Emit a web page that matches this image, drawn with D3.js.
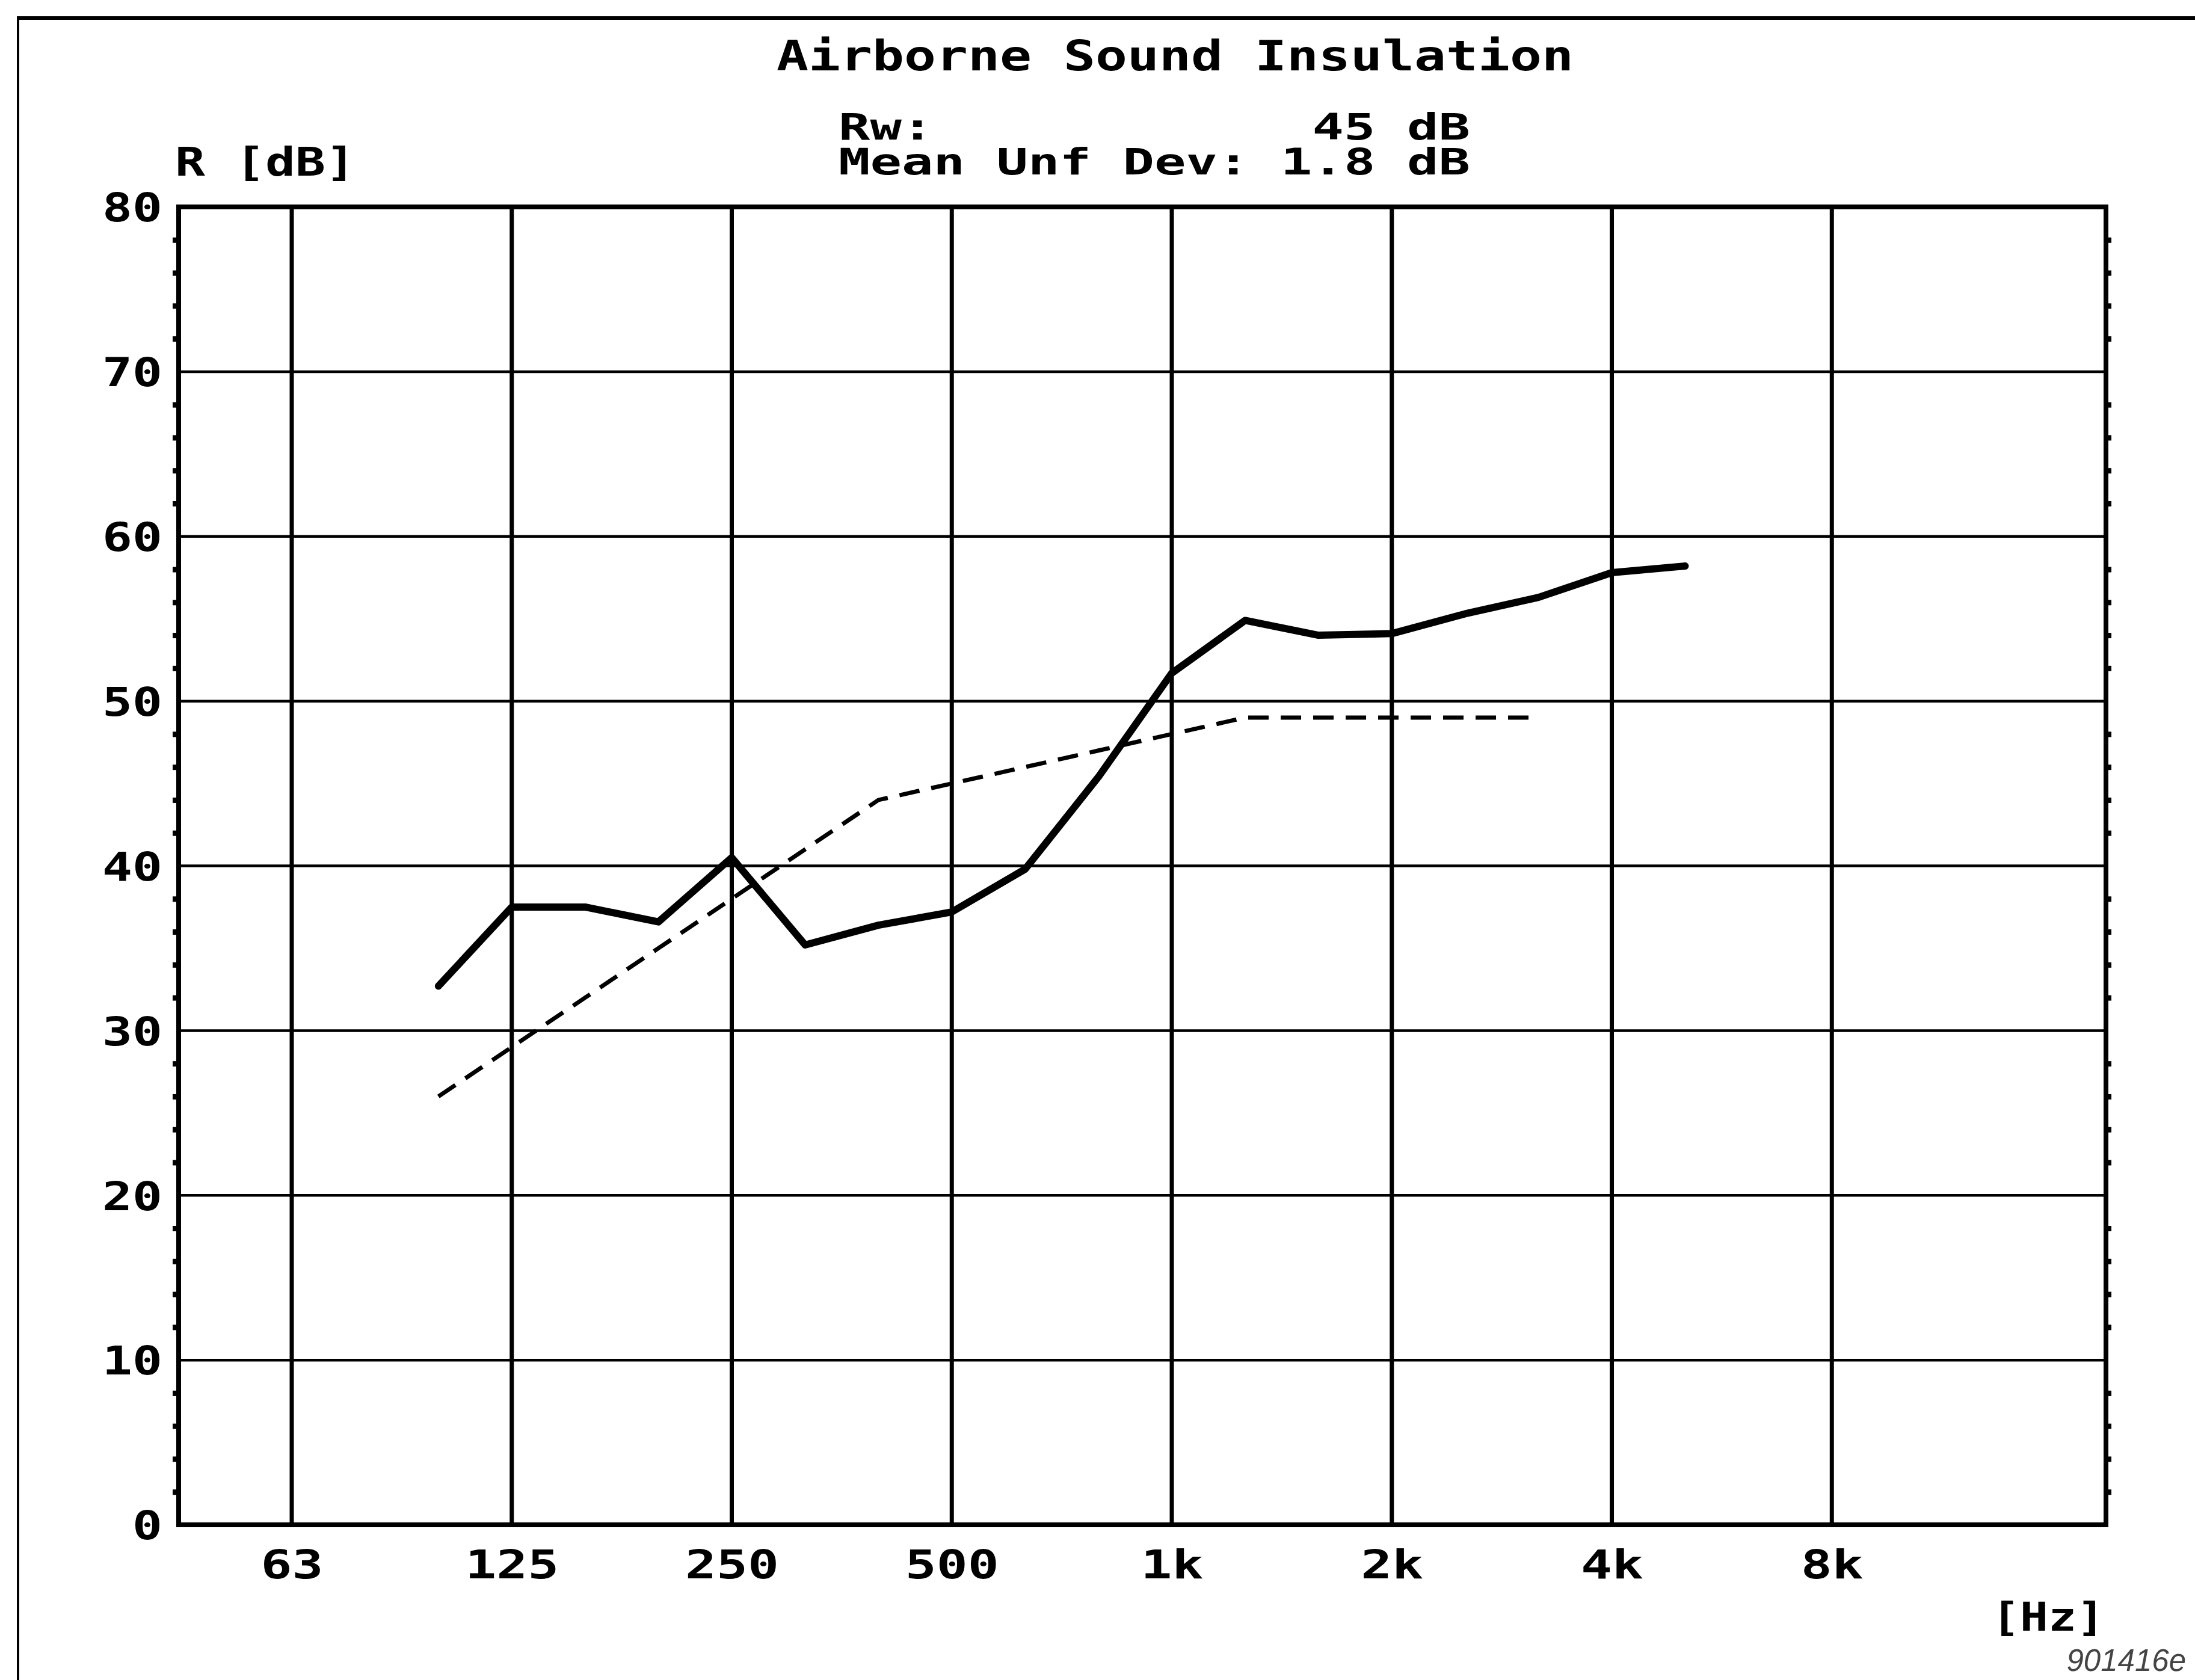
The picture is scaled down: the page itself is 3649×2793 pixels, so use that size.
<!DOCTYPE html>
<html lang="en">
<head>
    <meta charset="UTF-8">
    <title>Airborne Sound Insulation</title>
    <script src="https://d3js.org/d3.v7.min.js"></script>
    <style>
        body, html {
            margin: 0;
            background-color: #ffffff;
            overflow: hidden;
        }
        .grid-v { stroke: #000; stroke-width: 7px; }
        .grid-h { stroke: #000; stroke-width: 4.5px; }
        .frame { fill: none; stroke: #000; stroke-width: 8px; }
        .measured { fill: none; stroke: #000; stroke-width: 12px; stroke-linejoin: round; stroke-linecap: round; }
        .reference { fill: none; stroke: #000; stroke-width: 7px; stroke-dasharray: 34, 20; }
    </style>
</head>
<body>
<script>
    // third octave bands (Hz) and measured sound reduction index R (dB)
    const bands = [100, 125, 160, 200, 250, 315, 400, 500, 630, 800, 1000, 1250, 1600, 2000, 2500, 3150, 4000, 5000];
    const measured = [32.7, 37.5, 37.5, 36.6, 40.5, 35.2, 36.4, 37.2, 39.8, 45.4, 51.7, 54.9, 54.0, 54.1, 55.3, 56.3, 57.8, 58.2];
    // shifted reference curve, 100 Hz .. 3150 Hz
    const refBands = [100, 125, 160, 200, 250, 315, 400, 500, 630, 800, 1000, 1250, 1600, 2000, 2500, 3150];
    const reference = [26, 29, 32, 35, 38, 41, 44, 45, 46, 47, 48, 49, 49, 49, 49, 49];

    const octaveTicks = [63, 125, 250, 500, 1000, 2000, 4000, 8000];
    const xTickLabels = ["63", "125", "250", "500", "1k", "2k", "4k", "8k"];
    const yTicks = [0, 10, 20, 30, 40, 50, 60, 70, 80];

    const W = 3649, H = 2793;
    const plot = {left: 297, right: 3501, top: 344, bottom: 2535};
    const FONT = "DejaVu Sans Mono";

    // nominal band -> exact centre frequency
    const exact = f => 1000 * Math.pow(2, Math.round(3 * Math.log2(f / 1000)) / 3);

    const x = d3.scaleLog().base(2)
        .domain([1000 * Math.pow(2, -4.514), 1000 * Math.pow(2, 4.246)])
        .range([plot.left, plot.right]);
    const y = d3.scaleLinear().domain([0, 80]).range([plot.bottom, plot.top]);

    const svg = d3.select("body").append("svg")
        .attr("width", W)
        .attr("height", H);

    function plotText(str, px, py, size, charW, anchor) {
        return svg.append("text")
            .attr("x", px).attr("y", py)
            .attr("font-family", FONT)
            .attr("font-weight", "bold")
            .attr("font-size", size)
            .attr("text-anchor", anchor || "start")
            .attr("textLength", str.length * charW)
            .attr("lengthAdjust", "spacingAndGlyphs")
            .text(str);
    }

    // outer sheet border (only top and left visible)
    svg.append("line").attr("x1", 28).attr("x2", W).attr("y1", 30).attr("y2", 30)
        .attr("stroke", "#000").attr("stroke-width", 6);
    svg.append("line").attr("x1", 30).attr("x2", 30).attr("y1", 28).attr("y2", H)
        .attr("stroke", "#000").attr("stroke-width", 4);

    // grid
    svg.selectAll(".grid-h")
        .data(yTicks.slice(1, -1))
        .enter().append("line")
        .attr("class", "grid-h")
        .attr("x1", plot.left).attr("x2", plot.right)
        .attr("y1", d => y(d)).attr("y2", d => y(d));

    svg.selectAll(".grid-v")
        .data(octaveTicks)
        .enter().append("line")
        .attr("class", "grid-v")
        .attr("x1", d => x(exact(d))).attr("x2", d => x(exact(d)))
        .attr("y1", plot.top).attr("y2", plot.bottom);

    // minor dots every 2 dB on left and right edges
    const minor = d3.range(2, 80, 2).filter(v => v % 10 !== 0);
    const gl = svg.append("g")
        .attr("transform", `translate(${plot.left},0)`)
        .call(d3.axisLeft(y).tickValues(minor).tickSize(10).tickFormat(""));
    gl.select(".domain").remove();
    gl.selectAll(".tick line").attr("stroke-width", 9);

    const gr = svg.append("g")
        .attr("transform", `translate(${plot.right},0)`)
        .call(d3.axisRight(y).tickValues(minor).tickSize(9).tickFormat(""));
    gr.select(".domain").remove();
    gr.selectAll(".tick line").attr("stroke-width", 9);

    svg.append("rect")
        .attr("class", "frame")
        .attr("x", plot.left).attr("y", plot.top)
        .attr("width", plot.right - plot.left)
        .attr("height", plot.bottom - plot.top);

    // axis labels
    const gy = svg.append("g")
        .attr("transform", `translate(${plot.left},0)`)
        .call(d3.axisLeft(y).tickValues(yTicks).tickSize(0).tickPadding(27));
    gy.select(".domain").remove();
    gy.selectAll("text")
        .attr("font-family", FONT)
        .attr("font-weight", "bold")
        .attr("font-size", 66)
        .attr("fill", "#000")
        .attr("dy", "0.36em")
        .attr("textLength", d => String(d).length * 50)
        .attr("lengthAdjust", "spacingAndGlyphs");

    const gx = svg.append("g")
        .attr("transform", `translate(0,${plot.bottom})`)
        .call(d3.axisBottom(x)
            .tickValues(octaveTicks.map(exact))
            .tickSize(0).tickPadding(42)
            .tickFormat((d, i) => xTickLabels[i]));
    gx.select(".domain").remove();
    gx.selectAll("text")
        .attr("font-family", FONT)
        .attr("font-weight", "bold")
        .attr("font-size", 66)
        .attr("fill", "#000")
        .attr("textLength", (d, i) => xTickLabels[i].length * 52)
        .attr("lengthAdjust", "spacingAndGlyphs");

    // curves
    const line = d3.line()
        .x(d => x(exact(d[0])))
        .y(d => y(d[1]));

    svg.append("path")
        .datum(d3.zip(refBands, reference))
        .attr("class", "reference")
        .attr("d", line);

    svg.append("path")
        .datum(d3.zip(bands, measured))
        .attr("class", "measured")
        .attr("d", line);

    // texts
    plotText("Airborne Sound Insulation", 1291, 117, 70, 53);

    // Rw block as one text with three spans on a character grid
    const CW = 52.5;
    const block = svg.append("text")
        .attr("font-family", FONT)
        .attr("font-weight", "bold")
        .attr("font-size", 60);
    [["Rw:", 1394, 232], ["45 dB", 1394 + 15 * CW, 232], ["Mean Unf Dev: 1.8 dB", 1394, 290]]
        .forEach(([s, px, py]) => {
            block.append("tspan")
                .attr("x", px).attr("y", py)
                .attr("textLength", s.length * CW)
                .attr("lengthAdjust", "spacingAndGlyphs")
                .text(s);
        });

    plotText("R [dB]", 291, 292, 66, 50);
    plotText("[Hz]", 3311, 2711, 66, 47);

    svg.append("text")
        .attr("x", 3634).attr("y", 2778)
        .attr("text-anchor", "end")
        .attr("font-family", "Liberation Sans")
        .attr("font-style", "italic")
        .attr("font-size", 51)
        .attr("fill", "#444")
        .text("901416e");
</script>
</body>
</html>
